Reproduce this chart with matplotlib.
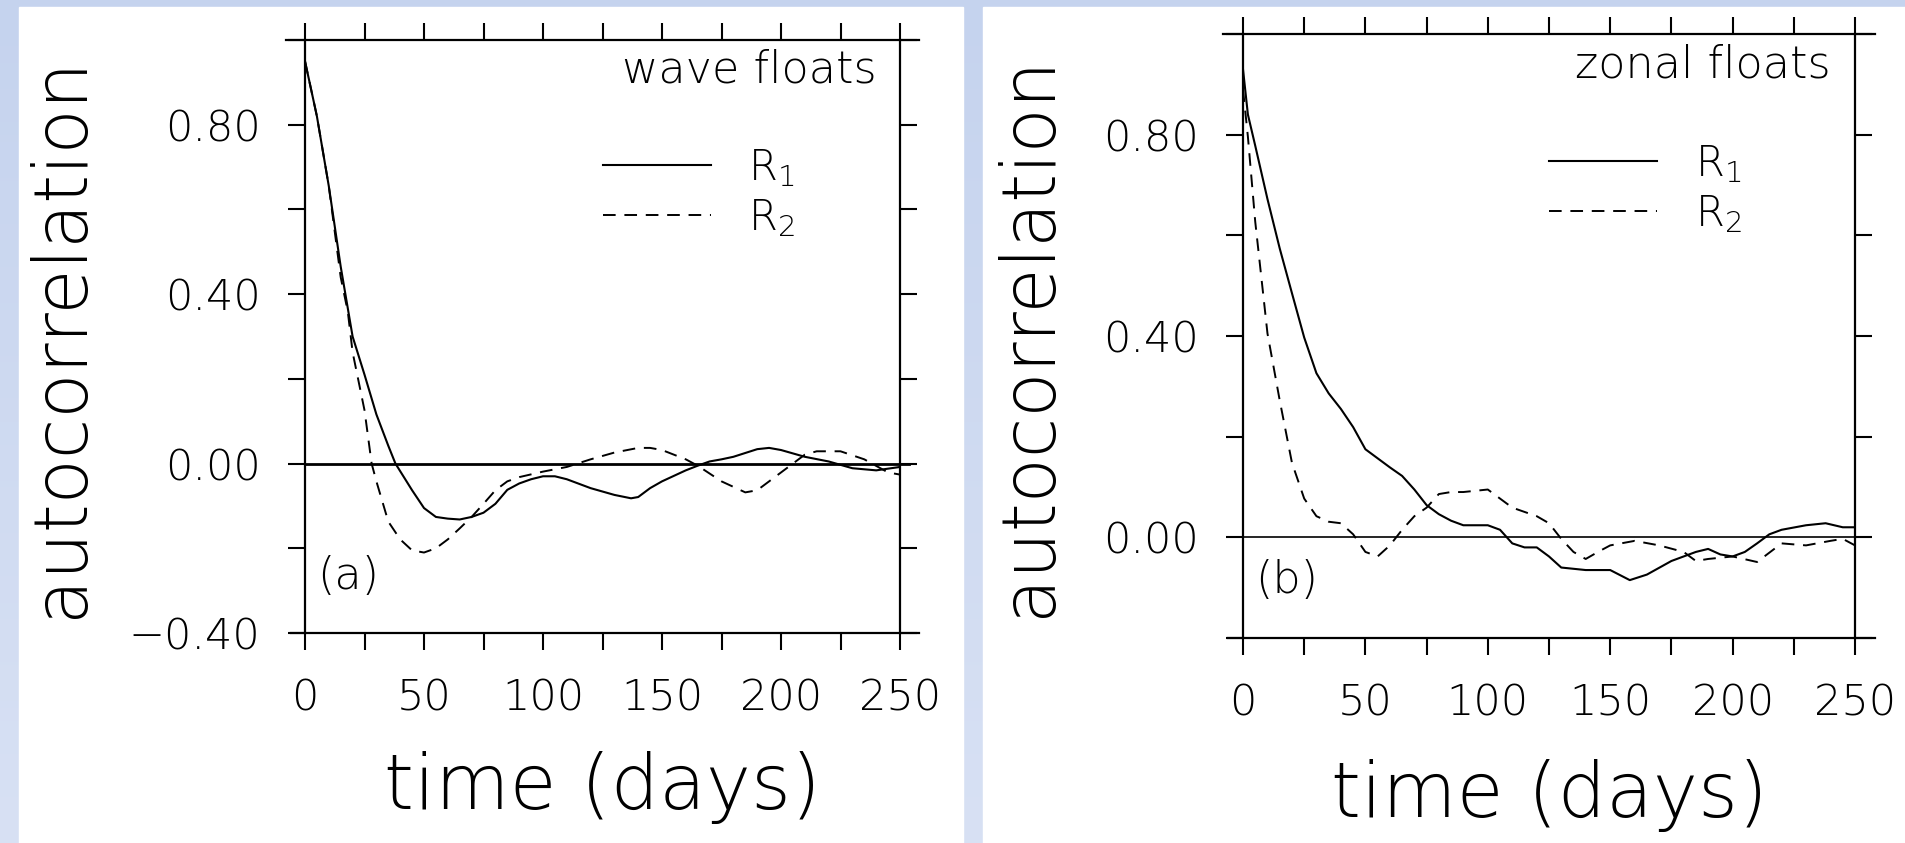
import numpy as np
import matplotlib
matplotlib.use("Agg")
import matplotlib.pyplot as plt
from matplotlib.patches import Rectangle
from matplotlib.ticker import MultipleLocator

plt.rcParams['font.family'] = ['DejaVu Sans']
plt.rcParams['font.weight'] = 'light'
plt.rcParams['axes.labelweight'] = 'light'
plt.rcParams['mathtext.fontset'] = 'dejavusans'

# panel (a): wave floats
t_a1 = [0, 5, 10, 15, 20, 25, 30, 35, 38, 45, 50, 55, 60, 65, 70, 75, 80, 85, 90, 95,
        100, 105, 110, 120, 130, 137, 140, 145, 150, 160, 165, 170, 175, 180, 190, 195,
        200, 210, 220, 230, 240, 250]
r1_a = [0.95, 0.82, 0.655, 0.465, 0.3, 0.21, 0.116, 0.042, 0.0, -0.063, -0.105, -0.126,
        -0.13, -0.132, -0.126, -0.116, -0.095, -0.062, -0.047, -0.037, -0.03, -0.03,
        -0.037, -0.058, -0.074, -0.082, -0.079, -0.058, -0.042, -0.016, -0.005, 0.005,
        0.01, 0.016, 0.034, 0.037, 0.032, 0.016, 0.005, -0.011, -0.016, -0.008]
t_a2 = [0, 5, 10, 15, 18, 20, 25, 28, 30, 35, 40, 45, 50, 55, 60, 65, 70, 75, 80, 85,
        90, 100, 110, 120, 130, 140, 145, 150, 160, 165, 175, 185, 190, 200, 210, 215,
        225, 235, 245, 250]
r2_a = [0.95, 0.82, 0.655, 0.44, 0.358, 0.263, 0.126, 0.0, -0.042, -0.137, -0.179,
        -0.205, -0.21, -0.2, -0.179, -0.153, -0.126, -0.095, -0.063, -0.042, -0.032,
        -0.019, -0.008, 0.01, 0.026, 0.037, 0.037, 0.032, 0.01, -0.005, -0.042, -0.068,
        -0.063, -0.021, 0.021, 0.029, 0.029, 0.01, -0.021, -0.026]

# panel (b): zonal floats
t_b1 = [0, 2, 5, 10, 15, 20, 25, 30, 35, 40, 45, 50, 55, 60, 65, 70, 75, 80, 85, 90,
        100, 105, 110, 115, 120, 125, 130, 140, 150, 158, 165, 175, 185, 190, 195, 200,
        205, 210, 215, 220, 230, 238, 245, 250]
r1_b = [0.93, 0.84, 0.778, 0.672, 0.574, 0.485, 0.397, 0.326, 0.286, 0.255, 0.219,
        0.175, 0.157, 0.139, 0.122, 0.095, 0.064, 0.046, 0.033, 0.024, 0.024, 0.015,
        -0.012, -0.02, -0.02, -0.038, -0.06, -0.065, -0.065, -0.085, -0.074, -0.047,
        -0.029, -0.023, -0.034, -0.038, -0.029, -0.012, 0.006, 0.015, 0.024, 0.028,
        0.02, 0.02]
t_b2 = [0, 2, 5, 8, 10, 15, 20, 25, 30, 35, 40, 45, 50, 55, 60, 65, 70, 75, 80, 85, 90,
        100, 105, 110, 120, 125, 130, 135, 140, 145, 150, 160, 170, 180, 185, 190, 200,
        210, 220, 230, 240, 245, 250]
r2_b = [0.89, 0.796, 0.627, 0.494, 0.405, 0.272, 0.148, 0.077, 0.042, 0.031, 0.028,
        0.006, -0.029, -0.038, -0.016, 0.015, 0.042, 0.059, 0.086, 0.09, 0.09, 0.095,
        0.077, 0.059, 0.042, 0.028, -0.003, -0.029, -0.043, -0.029, -0.016, -0.007,
        -0.016, -0.029, -0.047, -0.043, -0.038, -0.049, -0.012, -0.016, -0.007, -0.003,
        -0.016]

panels = [
    dict(t1=t_a1, r1=r1_a, t2=t_a2, r2=r2_a, ylim=(-0.4, 1.0), name='wave floats',
         tag='(a)', rect=[305 / 1905, 1 - 633 / 843, 595 / 1905, 593 / 843],
         ylab_x=-0.41, zero_lw=2.0),
    dict(t1=t_b1, r1=r1_b, t2=t_b2, r2=r2_b, ylim=(-0.2, 1.0), name='zonal floats',
         tag='(b)', rect=[1243 / 1905, 1 - 638 / 843, 612 / 1905, 604 / 843],
         ylab_x=-0.35, zero_lw=1.2),
]

fig = plt.figure(figsize=(19.05, 8.43), dpi=100)

# light blue backdrop with a soft vertical gradient
bg = fig.add_axes([0, 0, 1, 1], zorder=-10)
bg.imshow(np.linspace(0, 1, 256).reshape(-1, 1), aspect='auto', extent=(0, 1, 0, 1),
          cmap=matplotlib.colors.LinearSegmentedColormap.from_list('bg', ['#d8e1f4', '#c5d3ee']),
          origin='lower')
bg.axis('off')
bg.add_patch(Rectangle((19 / 1905, 0), (963 - 19) / 1905, 1 - 7 / 843,
                       transform=bg.transAxes, color='white'))
bg.add_patch(Rectangle((983 / 1905, 0), 1, 1 - 7 / 843,
                       transform=bg.transAxes, color='white'))

for p in panels:
    ax = fig.add_axes(p['rect'])
    ax.set_facecolor('none')
    l1, = ax.plot(p['t1'], p['r1'], color='black', lw=1.5, label='R$_1$')
    l2, = ax.plot(p['t2'], p['r2'], color='black', lw=1.4, ls=(0, (6.5, 4.5)), label='R$_2$')
    ax.axhline(0, color='black', lw=p['zero_lw'], xmax=1.015, clip_on=False)

    ax.set_xlim(0, 250)
    ax.set_ylim(*p['ylim'])
    ax.xaxis.set_major_locator(MultipleLocator(50))
    ax.xaxis.set_minor_locator(MultipleLocator(25))
    ax.yaxis.set_major_locator(MultipleLocator(0.4))
    ax.yaxis.set_minor_locator(MultipleLocator(0.2))
    ax.yaxis.set_major_formatter(lambda v, pos: f'{v:.2f}'.replace('-', '\u2212'))

    ax.tick_params(which='both', direction='out', length=12, width=1.5,
                   top=True, right=True, labelsize=31, pad=20)
    for s in ax.spines.values():
        s.set_linewidth(1.6)
    # frame lines run a little past the corners, as in the original
    ax.spines['top'].set_bounds(-8, 258)
    ax.spines['bottom'].set_bounds(-6, 258)

    ax.set_xlabel('time (days)', fontsize=55, fontweight='light')
    ax.xaxis.set_label_coords(0.5, -0.262)
    ax.xaxis.label.set_va('center')
    ax.set_ylabel('autocorrelation', fontsize=53, fontweight='light', va='center')
    ax.yaxis.set_label_coords(p['ylab_x'], 0.5)

    ax.text(0.96, 0.985, p['name'], transform=ax.transAxes, ha='right', va='top',
            fontsize=32)
    ax.text(0.02, 0.095, p['tag'], transform=ax.transAxes, ha='left', va='center',
            fontsize=32)
    ax.legend(handles=[l1, l2], loc='upper left', bbox_to_anchor=(0.5, 0.82),
              frameon=False, fontsize=30, handlelength=2.6, handletextpad=0.9,
              labelspacing=0.2, borderpad=0, borderaxespad=0)

fig.savefig('out.png', dpi=100)
